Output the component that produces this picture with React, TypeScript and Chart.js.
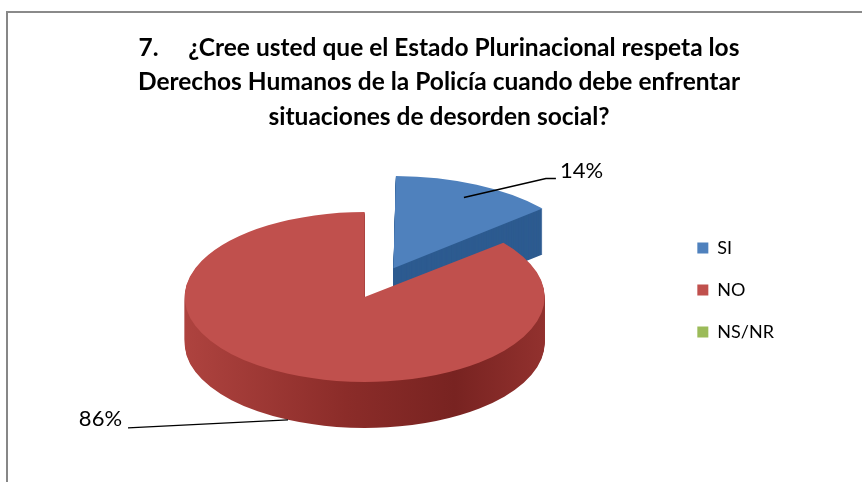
import React, { useEffect, useRef } from 'react';
import { Chart, registerables } from 'chart.js';

Chart.register(...registerables);

const titleLines = [
  '7.     ¿Cree usted que el Estado Plurinacional respeta los',
  'Derechos Humanos de la Policía cuando debe enfrentar',
  'situaciones de desorden social?',
];
const categories = ['SI', 'NO', 'NS/NR'];
const percentages = [14, 86, 0];
const topColors = ['#4F81BD', '#C0504D', '#9BBB59'];
const sideColors = ['#2D5B90', '#8E2E2B', '#6E8B3D'];
const explodeOffsets = [270, 0, 0];

const TILT = 0.472;
const DEPTH = 46;
const FONT = 'Lato, "Open Sans", sans-serif';
const TITLE_X = 439;
const TITLE_Y = 48;
const TITLE_LH = 34.5;

function project(cy: number, y: number) {
  return cy + TILT * (y - cy);
}

const pie3d = {
  id: 'pie3d',
  beforeDatasetsDraw(chart: any) {
    const ctx = chart.ctx;
    ctx.save();
    const arcs = chart.getDatasetMeta(0).data;
    if (!arcs.length) return;
    const cx = arcs[0].x;
    const cy = arcs[0].y;
    ctx.translate(cx, cy);
    ctx.scale(1, TILT);
    ctx.translate(-cx, -cy);
    const R = arcs[0].outerRadius;
    for (let d = DEPTH; d >= 1; d--) {
      ctx.save();
      ctx.translate(0, d / TILT);
      arcs.forEach((arc: any, i: number) => {
        let fill: any = sideColors[i];
        if (i === 1) {
          const g = ctx.createLinearGradient(cx - R, 0, cx + R, 0);
          g.addColorStop(0, '#AE433F');
          g.addColorStop(0.45, '#8B2C29');
          g.addColorStop(0.75, '#782321');
          g.addColorStop(1, '#92312E');
          fill = g;
        }
        const saved = arc.options;
        arc.options = Object.assign({}, saved, { backgroundColor: fill, borderWidth: 0 });
        arc.draw(ctx);
        arc.options = saved;
      });
      ctx.restore();
    }
  },
  afterDatasetsDraw(chart: any) {
    chart.ctx.restore();
  },
};

const labelsPlugin = {
  id: 'pieLabels',
  afterDraw(chart: any) {
    const ctx = chart.ctx;
    ctx.save();
    ctx.fillStyle = '#000';
    ctx.font = `bold 24.5px ${FONT}`;
    ctx.textAlign = 'center';
    ctx.textBaseline = 'middle';
    titleLines.forEach((line, i) => ctx.fillText(line, TITLE_X, TITLE_Y + i * TITLE_LH));

    const arcs = chart.getDatasetMeta(0).data;
    ctx.font = `22px ${FONT}`;
    ctx.strokeStyle = '#000';
    ctx.lineWidth = 1.5;
    arcs.forEach((arc: any, i: number) => {
      if (!percentages[i]) return;
      const mid = (arc.startAngle + arc.endAngle) / 2;
      const T = (arc.options.offset || 0) / 4;
      const front = Math.sin(mid) > 0;
      const r = arc.outerRadius * (front ? 1 : 0.92);
      const ax = arc.x + Math.cos(mid) * (T + r);
      let ay = project(arc.y, arc.y + Math.sin(mid) * (T + r));
      if (front) ay += DEPTH;
      const text = `${percentages[i]}%`;
      ctx.beginPath();
      if (Math.cos(mid) >= 0) {
        const ex = ax + 82;
        const ey = ay - 19;
        ctx.moveTo(ax, ay);
        ctx.lineTo(ex, ey);
        ctx.lineTo(ex + 10, ey);
        ctx.stroke();
        ctx.textAlign = 'left';
        ctx.fillText(text, ex + 14, ey - 8);
      } else {
        const ex = ax - 160;
        const ey = ay + 8;
        ctx.moveTo(ax, ay);
        ctx.lineTo(ex, ey);
        ctx.stroke();
        ctx.textAlign = 'right';
        ctx.fillText(text, ex - 6, ey - 9);
      }
    });
    ctx.restore();
  },
};

export default function App() {
  const ref = useRef<HTMLCanvasElement>(null);
  useEffect(() => {
    const chart = new Chart(ref.current as HTMLCanvasElement, {
      type: 'pie',
      data: {
        labels: categories,
        datasets: [
          {
            data: percentages,
            backgroundColor: topColors,
            borderWidth: 0,
            offset: explodeOffsets,
            radius: 180,
            clip: false,
          } as any,
        ],
      },
      options: {
        responsive: false,
        animation: false,
        events: [],
        layout: { padding: { top: 140, bottom: 28, left: 56, right: 78 } },
        plugins: {
          title: { display: false },
          tooltip: { enabled: false },
          legend: {
            position: 'right',
            align: 'start',
            title: { display: true, text: '', font: { size: 12 }, padding: { top: 0, bottom: 60.6 } },
            labels: {
              boxWidth: 11,
              boxHeight: 11,
              padding: 24,
              color: '#000',
              font: { family: FONT, size: 18 },
            },
          },
        },
      } as any,
      plugins: [pie3d, labelsPlugin],
    });
    return () => chart.destroy();
  }, []);

  return (
    <div style={{ position: 'fixed', left: 0, top: 0, width: 862, height: 482, background: '#fff', overflow: 'hidden' }}>
      <div
        style={{
          position: 'absolute',
          left: 6,
          top: 11,
          width: 856,
          height: 471,
          boxSizing: 'border-box',
          borderLeft: '2px solid #878787',
          borderTop: '2px solid #8a8a8a',
        }}
      />
      <canvas ref={ref} width={862} height={482} style={{ position: 'absolute', left: 0, top: 0, width: 862, height: 482 }} />
    </div>
  );
}
